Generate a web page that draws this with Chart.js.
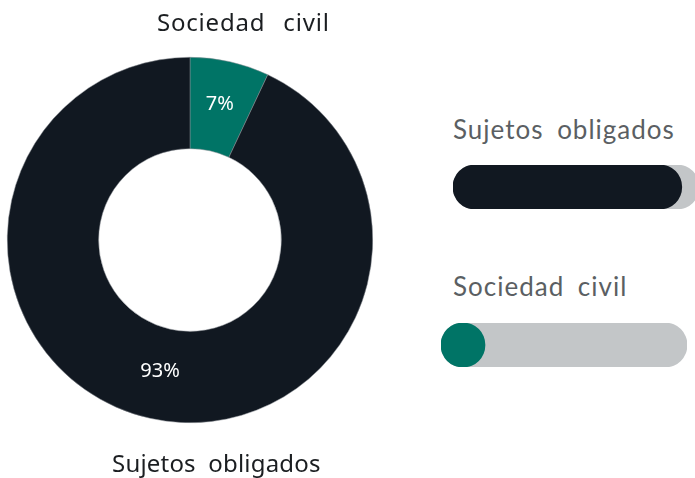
<!DOCTYPE html>
<html>
<head>
<meta charset="utf-8">
<script src="https://cdn.jsdelivr.net/npm/chart.js@4"></script>
<style>
  body { margin: 0; width: 695px; height: 478px; overflow: hidden; background: #fff; position: relative; }
  #dona { position: absolute; left: 0; top: 0; }
  .bar { position: absolute; }
  #bar1 { left: 453px; top: 165px; }
  #bar2 { left: 441px; top: 323px; }
  .lbl { position: absolute; font-family: 'Noto Sans', sans-serif; font-size: 24px; color: #1b1e21;
         white-space: nowrap; line-height: 30px; }
  #dlbl1 { left: 157px; top: 7px; letter-spacing: 0.8px; word-spacing: 11px; }
  #dlbl2 { left: 112px; top: 448px; letter-spacing: 0.2px; word-spacing: 6px; }
  .lbl.der { font-family: Lato, sans-serif; font-size: 26px; color: #5b5f63; letter-spacing: 1px; word-spacing: 6px; left: 453px; }
  #lbl1 { top: 114px; }
  #lbl2 { top: 271px; }
</style>
</head>
<body>
<canvas id="dona" width="380" height="478"></canvas>
<div class="lbl" id="dlbl1"></div>
<div class="lbl" id="dlbl2"></div>
<div class="lbl der" id="lbl1"></div>
<div class="lbl der" id="lbl2"></div>
<canvas class="bar" id="bar1" width="246" height="44"></canvas>
<canvas class="bar" id="bar2" width="246" height="44"></canvas>
<script>
const categorias = ["Sujetos obligados", "Sociedad civil"];
const porcentajes = [93, 7];
const colores = ["#111821", "#007466"];
const pista = "#c3c6c8";

Chart.defaults.animation = false;
Chart.defaults.font.family = "'Noto Sans', sans-serif";

// etiquetas de % dentro de cada sector
const etiquetasPct = {
  id: "etiquetasPct",
  afterDatasetsDraw(chart) {
    const ctx = chart.ctx;
    const meta = chart.getDatasetMeta(0);
    const valores = chart.data.datasets[0].data;
    ctx.save();
    ctx.fillStyle = "#fff";
    ctx.font = "20px 'Noto Sans', sans-serif";
    ctx.textAlign = "center";
    ctx.textBaseline = "middle";
    meta.data.forEach((arc, i) => {
      const p = arc.tooltipPosition();
      ctx.fillText(valores[i] + "%", p.x, p.y - 2);
    });
    ctx.restore();
  }
};

// sociedad civil primero para que empiece a las 12 en punto
const orden = [1, 0];
new Chart(document.getElementById("dona"), {
  type: "doughnut",
  data: {
    labels: orden.map(i => categorias[i]),
    datasets: [{
      data: orden.map(i => porcentajes[i]),
      backgroundColor: orden.map(i => colores[i]),
      borderColor: "#8a8f94",
      borderWidth: 0.5
    }]
  },
  options: {
    responsive: false,
    devicePixelRatio: 1,
    cutout: "50%",
    layout: { padding: { left: 7, right: 7, top: 47, bottom: 45 } },
    plugins: {
      legend: { display: false },
      tooltip: { enabled: false }
    }
  },
  plugins: [etiquetasPct]
});
document.getElementById("dlbl1").textContent = categorias[1];
document.getElementById("dlbl2").textContent = categorias[0];

// barras de progreso
function barra(id, i) {
  document.getElementById("lbl" + (i + 1)).textContent = categorias[i];
  new Chart(document.getElementById(id), {
    type: "bar",
    data: {
      labels: [categorias[i]],
      datasets: [
        { data: [porcentajes[i]], backgroundColor: colores[i], borderRadius: 22, borderSkipped: false, minBarLength: 44 },
        { data: [100], backgroundColor: pista, borderRadius: 22, borderSkipped: false }
      ]
    },
    options: {
      responsive: false,
      devicePixelRatio: 1,
      indexAxis: "y",
      datasets: { bar: { grouped: false, barPercentage: 1, categoryPercentage: 1 } },
      layout: { padding: 0 },
      scales: {
        x: { display: false, min: 0, max: 100 },
        y: { display: false }
      },
      plugins: { legend: { display: false }, tooltip: { enabled: false } }
    }
  });
}
barra("bar1", 0);
barra("bar2", 1);
</script>
</body>
</html>
